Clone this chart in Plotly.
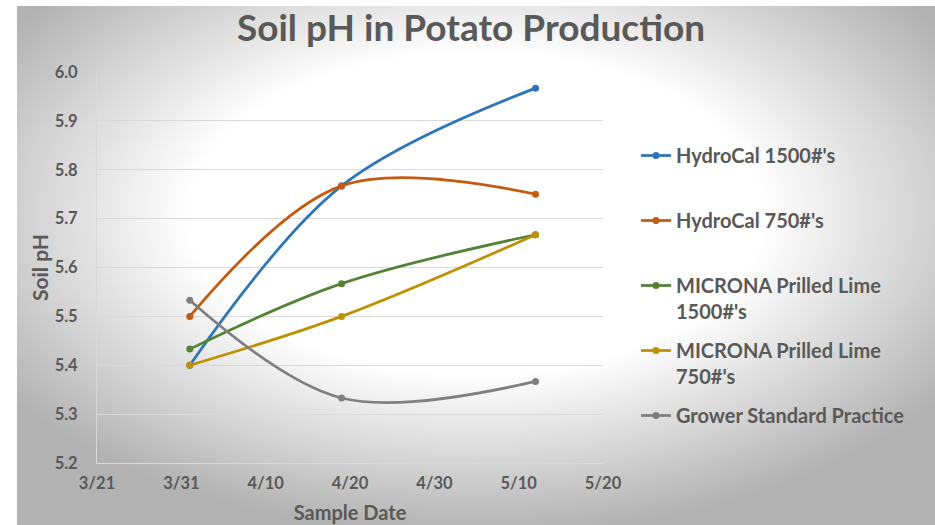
import base64
import plotly.graph_objects as go

dates = ["2017-04-01", "2017-04-19", "2017-05-12"]
series_names = [
    "HydroCal 1500#'s",
    "HydroCal 750#'s",
    "MICRONA Prilled Lime<br>1500#'s",
    "MICRONA Prilled Lime<br>750#'s",
    "Grower Standard Practice",
]
hydrocal_1500 = [5.400, 5.767, 5.967]
hydrocal_750 = [5.500, 5.767, 5.750]
microna_1500 = [5.433, 5.567, 5.667]
microna_750 = [5.400, 5.500, 5.667]
grower_std = [5.533, 5.333, 5.367]
series_values = [hydrocal_1500, hydrocal_750, microna_1500, microna_750, grower_std]
colors = ["#2E75B6", "#C55A11", "#548235", "#BF9000", "#7F7F7F"]

x_range = ["2017-03-21", "2017-05-20"]
y_range = [5.2, 6.0]

fig = go.Figure()
for i, (name, vals, col) in enumerate(zip(series_names, series_values, colors)):
    label = name if "<br>" in name or i == len(series_names) - 1 else name + "<br>\u00a0"
    fig.add_trace(go.Scatter(
        x=dates, y=vals, name=label, mode="lines+markers",
        line=dict(color=col, width=2.75, shape="spline", smoothing=1.0),
        marker=dict(color=col, size=7),
        legendgroup=f"g{i}",
    ))

# page body margin is removed (see post_script) so the figure fills the window
W, H = 935, 525
L, R, T, B = 97, 603, 72, 463
pw, ph = R - L, B - T

# radial gradient background (chart area of the reference)
bx0, by0 = 17, 6
bw, bh = W - bx0, H - by0
svg = f"""<svg xmlns='http://www.w3.org/2000/svg' width='{bw}' height='{bh}' viewBox='0 0 {bw} {bh}' preserveAspectRatio='none'>
<defs><radialGradient id='g' cx='0.5' cy='0.4' r='0.62' fx='0.5' fy='0.4'>
<stop offset='0' stop-color='#ffffff'/><stop offset='0.5' stop-color='#ffffff'/>
<stop offset='1' stop-color='#b2b2b2'/></radialGradient></defs>
<rect width='{bw}' height='{bh}' fill='url(#g)'/></svg>"""
uri = "data:image/svg+xml;base64," + base64.b64encode(svg.encode()).decode()

fig.add_layout_image(dict(
    source=uri, xref="paper", yref="paper",
    x=(bx0 - L) / pw, y=(B - by0) / ph, sizex=bw / pw, sizey=bh / ph,
    xanchor="left", yanchor="top", sizing="stretch", layer="below",
))

font_fam = "Lato, 'Open Sans', sans-serif"
gray = "#595959"

fig.update_layout(
    width=W, height=H,
    margin=dict(l=L, r=W - R, t=T, b=H - B, autoexpand=False),
    paper_bgcolor="white", plot_bgcolor="rgba(0,0,0,0)",
    title=dict(text="Soil pH in Potato Production", x=471 / W, xref="container",
               xanchor="center", y=(H - 28) / H, yref="container", yanchor="middle",
               font=dict(family=font_fam, size=37, color=gray, weight="bold"), automargin=False),
    font=dict(family=font_fam, color=gray),
    xaxis=dict(
        type="date", range=x_range, tick0=x_range[0], dtick=10 * 86400000,
        tickformat="%-m/%-d", showgrid=False, zeroline=False,
        showline=True, linecolor="#d9d9d9", linewidth=1, automargin=False,
        tickfont=dict(size=16.5, color=gray, family=font_fam, weight="bold"),
        ticklabelstandoff=5,
        title=dict(text="Sample Date", font=dict(size=20, color=gray, weight="bold"), standoff=14),
    ),
    yaxis=dict(
        range=y_range, dtick=0.1, tick0=5.2, tickformat=".1f",
        showgrid=True, gridcolor="#d9d9d9", gridwidth=1, zeroline=False,
        showline=True, linecolor="#d9d9d9", linewidth=1, automargin=False,
        tickfont=dict(size=16.5, color=gray, family=font_fam, weight="bold"),
        ticklabelstandoff=15,
        title=dict(text="Soil pH", font=dict(size=21, color=gray, weight="bold"), standoff=0),
    ),
    legend=dict(
        x=(636 - L) / pw, xanchor="left", y=(B - (157 - 21)) / ph, yanchor="top",
        font=dict(size=20, color=gray, family=font_fam, weight="bold"),
        bgcolor="rgba(0,0,0,0)", tracegroupgap=10, valign="top",
        itemwidth=30,
    ),
    showlegend=True,
)

fig.write_html("out.html", config={"displayModeBar": False},
               post_script="document.body.style.margin='0';")
